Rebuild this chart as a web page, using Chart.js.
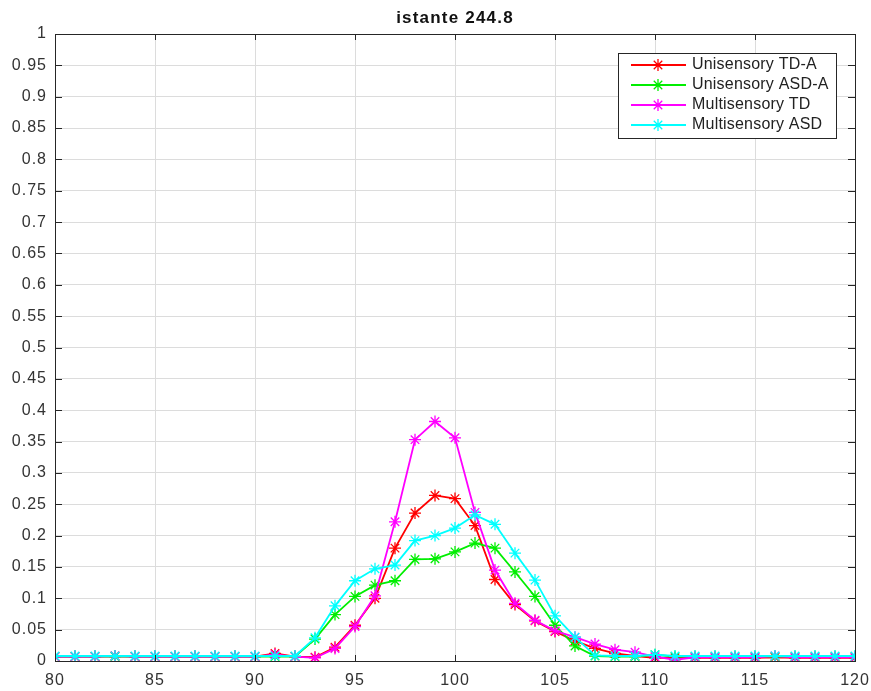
<!DOCTYPE html>
<html>
<head>
<meta charset="utf-8">
<script src="https://cdn.jsdelivr.net/npm/chart.js@4"></script>
<style>
  html, body { margin: 0; padding: 0; background: #fff; }
  #wrap { width: 871px; height: 691px; }
</style>
</head>
<body>
<div id="wrap"><canvas id="chart" width="871" height="691"></canvas></div>
<script>
// x positions
const xValues = [80, 81, 82, 83, 84, 85, 86, 87, 88, 89, 90, 91, 92, 93, 94, 95, 96, 97, 98, 99, 100,
  101, 102, 103, 104, 105, 106, 107, 108, 109, 110, 111, 112, 113, 114, 115, 116, 117, 118, 119, 120];

// series values
const uniTD = [0.007, 0.007, 0.007, 0.008, 0.007, 0.007, 0.007, 0.007, 0.007, 0.007, 0.007, 0.012, 0.007, 0.006, 0.022, 0.057, 0.100, 0.180, 0.236, 0.264, 0.259,
  0.216, 0.130, 0.090, 0.064, 0.047, 0.032, 0.020, 0.012, 0.008, 0.005, 0.005, 0.005, 0.005, 0.005, 0.005, 0.006, 0.005, 0.005, 0.005, 0.005];
const uniASD = [0.007, 0.007, 0.007, 0.007, 0.007, 0.007, 0.007, 0.007, 0.007, 0.007, 0.007, 0.007, 0.007, 0.035, 0.074, 0.103, 0.121, 0.128, 0.162, 0.163, 0.174,
  0.188, 0.180, 0.142, 0.103, 0.057, 0.024, 0.008, 0.007, 0.007, 0.010, 0.007, 0.007, 0.007, 0.007, 0.007, 0.007, 0.007, 0.007, 0.007, 0.007];
const multiTD = [0.007, 0.007, 0.007, 0.008, 0.007, 0.007, 0.007, 0.007, 0.007, 0.007, 0.007, 0.010, 0.007, 0.005, 0.020, 0.055, 0.104, 0.222, 0.353, 0.382, 0.356,
  0.237, 0.145, 0.092, 0.065, 0.048, 0.038, 0.027, 0.018, 0.014, 0.007, 0.002, 0.006, 0.006, 0.006, 0.006, 0.008, 0.006, 0.006, 0.006, 0.006];
const multiASD = [0.008, 0.008, 0.008, 0.008, 0.008, 0.008, 0.008, 0.008, 0.008, 0.008, 0.008, 0.008, 0.008, 0.037, 0.088, 0.128, 0.147, 0.153, 0.192, 0.200, 0.212,
  0.233, 0.218, 0.172, 0.129, 0.072, 0.038, 0.009, 0.008, 0.008, 0.010, 0.008, 0.008, 0.008, 0.008, 0.008, 0.008, 0.008, 0.008, 0.008, 0.008];

const seriesNames = ['Unisensory TD-A', 'Unisensory ASD-A', 'Multisensory TD', 'Multisensory ASD'];
const seriesColors = ['#ff0000', '#00ee00', '#ff00ff', '#00ffff'];
const seriesData = [uniTD, uniASD, multiTD, multiASD];
const titleText = 'istante 244.8';

const FONT = '"Liberation Sans", Arial, sans-serif';

// matlab text looks a bit wider spaced
const spacing = {
  id: 'spacing',
  beforeLayout(chart) { chart.ctx.letterSpacing = '1px'; },
  beforeDraw(chart) { chart.ctx.letterSpacing = '1px'; },
};

// title, box, inward ticks and legend like the matlab figure
const matlabAxes = {
  id: 'matlabAxes',
  afterDraw(chart) {
    const { ctx, chartArea: a, scales } = chart;
    ctx.save();

    ctx.font = 'bold 17px ' + FONT;
    ctx.letterSpacing = '1.2px';
    ctx.fillStyle = '#111';
    ctx.textAlign = 'center';
    ctx.textBaseline = 'middle';
    ctx.fillText(titleText, (a.left + a.right) / 2, 18);

    ctx.strokeStyle = '#262626';
    ctx.lineWidth = 1;
    ctx.beginPath();
    scales.x.ticks.forEach(t => {
      const px = Math.round(scales.x.getPixelForValue(t.value)) + 0.5;
      ctx.moveTo(px, a.bottom); ctx.lineTo(px, a.bottom - 6);
      ctx.moveTo(px, a.top); ctx.lineTo(px, a.top + 6);
    });
    scales.y.ticks.forEach(t => {
      const py = Math.round(scales.y.getPixelForValue(t.value)) + 0.5;
      ctx.moveTo(a.left, py); ctx.lineTo(a.left + 7, py);
      ctx.moveTo(a.right, py); ctx.lineTo(a.right - 7, py);
    });
    ctx.stroke();
    ctx.strokeRect(Math.round(a.left) + 0.5, Math.round(a.top) + 0.5,
      Math.round(a.right - a.left), Math.round(a.bottom - a.top));

    // legend
    const bx = 618.5, by = 53.5, bw = 218, bh = 85;
    ctx.fillStyle = '#fff';
    ctx.fillRect(bx, by, bw, bh);
    ctx.strokeStyle = '#262626';
    ctx.strokeRect(bx, by, bw, bh);
    ctx.font = '16px ' + FONT;
    ctx.letterSpacing = '0.2px';
    ctx.textAlign = 'left';
    ctx.textBaseline = 'middle';
    seriesNames.forEach((name, i) => {
      const y = 65 + i * 20;
      ctx.strokeStyle = seriesColors[i];
      ctx.lineWidth = 1.8;
      ctx.beginPath();
      ctx.moveTo(631, y); ctx.lineTo(686, y);
      ctx.stroke();
      ctx.lineWidth = 1.3;
      Chart.helpers.drawPoint(ctx, { pointStyle: 'star', radius: 6, borderWidth: 1.3 }, 658, y);
      ctx.fillStyle = '#222';
      ctx.fillText(name, 692, y);
    });
    ctx.restore();
  }
};

new Chart(document.getElementById('chart'), {
  type: 'line',
  data: {
    datasets: seriesData.map((vals, i) => ({
      label: seriesNames[i],
      data: xValues.map((x, j) => ({ x: x, y: vals[j] })),
      borderColor: seriesColors[i],
      backgroundColor: seriesColors[i],
      borderWidth: 1.8,
      pointStyle: 'star',
      pointRadius: 6,
      pointBorderWidth: 1.3,
      order: 4 - i,
    })),
  },
  options: {
    responsive: false,
    animation: false,
    layout: { padding: { left: 0, right: 16, top: 34, bottom: 0 } },
    plugins: {
      legend: { display: false },
      tooltip: { enabled: false },
      title: { display: false },
    },
    scales: {
      x: {
        type: 'linear',
        min: 80,
        max: 120,
        ticks: { stepSize: 5, color: '#333', font: { family: FONT, size: 16 }, padding: 10 },
        grid: { color: '#dcdcdc', tickLength: 0 },
        border: { display: false },
        afterFit(s) { s.height = 30; s.paddingLeft = 0; s.paddingRight = 0; },
      },
      y: {
        min: 0,
        max: 1,
        ticks: {
          stepSize: 0.05,
          color: '#333',
          font: { family: FONT, size: 16 },
          padding: 8,
          callback: v => String(parseFloat(v.toFixed(2))),
        },
        grid: { color: '#dcdcdc', tickLength: 0 },
        border: { display: false },
        afterFit(s) { s.width = 55; s.paddingTop = 0; s.paddingBottom = 0; },
      },
    },
  },
  plugins: [spacing, matlabAxes],
});
</script>
</body>
</html>
